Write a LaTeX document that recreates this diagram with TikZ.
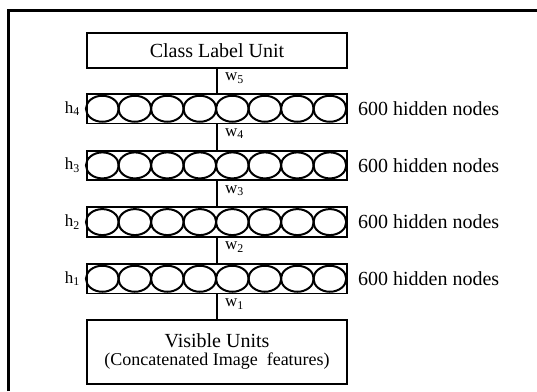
\documentclass[tikz,border=0pt]{standalone}
\usepackage{fontspec}
\setmainfont{Liberation Serif}
\usetikzlibrary{calc}
\begin{document}
\begin{tikzpicture}[x=1pt,y=-1pt,
  unitbox/.style={draw,line width=1.8pt,minimum width=260pt,inner sep=0pt},
  layerrow/.style={draw,line width=1.8pt,minimum width=260pt,minimum height=29.5pt,inner sep=0pt},
  neuron/.style={line width=2pt},
  link/.style={line width=1.8pt},
  boxtext/.style={inner sep=0pt,font=\fontsize{20}{22}\selectfont},
  subtext/.style={inner sep=0pt,font=\fontsize{18}{20}\selectfont},
  wlabel/.style={anchor=north west,inner sep=0pt,font=\fontsize{17}{19}\selectfont},
  hlabel/.style={anchor=east,inner sep=0pt,font=\fontsize{17}{19}\selectfont},
  sizelabel/.style={anchor=west,inner sep=0pt,font=\fontsize{20}{22}\selectfont}]
  \useasboundingbox (0,0) rectangle (537,391);
  % open frame: top and left edges only
  \draw[line width=3pt] (8,391) -- (8,10) -- (537,10);

  % top and bottom unit boxes
  \node[unitbox,minimum height=35pt] (cls) at (217,50.5) {};
  \node[boxtext] (clstext) at (cls.center) {Class Label Unit};
  \node[unitbox,minimum height=64pt] (vis) at (217,352) {};
  \node[boxtext] (vistext) at ($(vis.center)+(0,-11)$) {Visible Units};
  \node[subtext] (vissub) at ($(vis.center)+(0,9)$) {(Concatenated Image\ \ features)};

  % hidden layers h4 .. h1
  \foreach \k/\yc in {4/108.75,3/165.4,2/222.1,1/278.75}{
    \node[layerrow] (h\k) at (217,\yc) {};
    \foreach \i in {0,...,7}{
      \draw[neuron] ($(h\k.west)+(16.25+32.5*\i,0)$) ellipse (16.4pt and 13pt);
    }
    \node[hlabel] (hl\k) at ($(h\k.west)+(-6,0)$) {h\textsubscript{\k}};
    \node[sizelabel] (hs\k) at ($(h\k.east)+(10,0)$) {600 hidden nodes};
  }

  % weight connections
  \draw[link] (cls.south) -- (h4.north);
  \draw[link] (h4.south) -- (h3.north);
  \draw[link] (h3.south) -- (h2.north);
  \draw[link] (h2.south) -- (h1.north);
  \draw[link] (h1.south) -- (vis.north);

  \node[wlabel] (w5) at ($(cls.south)+(8,4)$) {w\textsubscript{5}};
  \node[wlabel] (w4) at ($(h4.south)+(8,4)$) {w\textsubscript{4}};
  \node[wlabel] (w3) at ($(h3.south)+(8,4)$) {w\textsubscript{3}};
  \node[wlabel] (w2) at ($(h2.south)+(8,4)$) {w\textsubscript{2}};
  \node[wlabel] (w1) at ($(h1.south)+(8,4)$) {w\textsubscript{1}};
\end{tikzpicture}
\end{document}
